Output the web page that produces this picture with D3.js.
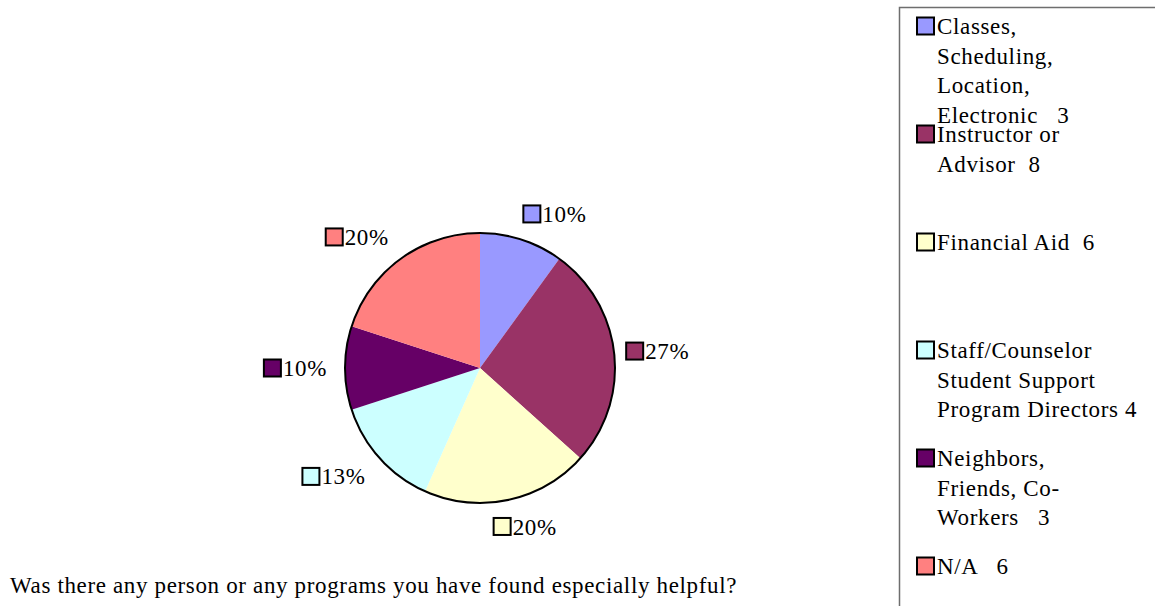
<!DOCTYPE html>
<html>
<head>
<meta charset="utf-8">
<script src="https://cdn.jsdelivr.net/npm/d3@7"></script>
<style>
  body { margin: 0; background: #fff; }
  svg { display: block; }
</style>
</head>
<body>
<div class="pie-chart"></div>
<script>
// categories, values and labels
var categories = ['Classes, Scheduling, Location, Electronic', 'Instructor or Advisor', 'Financial Aid',
	'Staff/Counselor Student Support Program Directors', 'Neighbors, Friends, Co-Workers', 'N/A'];
var counts = [3, 8, 6, 4, 3, 6];
var legendLines = [
	['Classes,', 'Scheduling,', 'Location,', 'Electronic   3'],
	['Instructor or', 'Advisor  8'],
	['Financial Aid  6'],
	['Staff/Counselor', 'Student Support', 'Program Directors 4'],
	['Neighbors,', 'Friends, Co-', 'Workers   3'],
	['N/A   6']
];
var sliceColors = ['#9999ff', '#993366', '#ffffcc', '#ccffff', '#660066', '#ff8080'];
var question = 'Was there any person or any programs you have found especially helpful?';

var width = 1155,
	height = 606,
	fontFamily = '"Liberation Serif", "Times New Roman", serif',
	fontSize = '23px',
	letterSpacing = '0.65px';
var cx = 480, cy = 368, radius = 135;

var svg = d3.select('.pie-chart').append('svg')
	.attr('width', width)
	.attr('height', height)
	.attr('font-family', fontFamily)
	.attr('font-size', fontSize)
	.attr('letter-spacing', letterSpacing)
	.attr('fill', '#000');

var total = d3.sum(counts);
var pie = d3.pie().sort(null).value(function(d) { return d; });
var arc = d3.arc().innerRadius(0).outerRadius(radius);
var arcs = pie(counts);

// slices
var g = svg.append('g').attr('transform', 'translate(' + cx + ',' + cy + ')');
g.selectAll('path.slice')
	.data(arcs)
	.enter().append('path')
	.attr('class', 'slice')
	.attr('d', arc)
	.attr('fill', function(d, i) { return sliceColors[i]; });
// outline only on the rim
g.append('circle')
	.attr('r', radius)
	.attr('fill', 'none')
	.attr('stroke', '#000')
	.attr('stroke-width', 2);

// percentage labels, placed just outside the rim on the slice's middle angle
var labelRadius = radius + 15,
	box = 17,
	gap = 4;
arcs.forEach(function(d, i) {
	var a = (d.startAngle + d.endAngle) / 2;
	var px = Math.sin(a) * labelRadius,
		py = -Math.cos(a) * labelRadius;
	var lbl = g.append('g');
	lbl.append('rect')
		.attr('x', 0)
		.attr('y', -box / 2)
		.attr('width', box)
		.attr('height', box)
		.attr('fill', sliceColors[i])
		.attr('stroke', '#000')
		.attr('stroke-width', 2);
	var t = lbl.append('text')
		.attr('x', box + gap - 2)
		.attr('y', 0)
		.attr('dy', '0.35em')
		.text(Math.round(counts[i] / total * 100) + '%');
	var w = box + gap - 2 + t.node().getComputedTextLength(),
		h = 24;
	var s = Math.sin(a), c = Math.cos(a);
	var lx = s >= 0 ? px - 3 : px - w - 3;
	if (Math.abs(s) < 0.25) lx = px - w / 2 + 14;
	var ly = py - (h / 2) * c;
	lbl.attr('transform', 'translate(' + lx + ',' + ly + ')');
});

// legend
var legendX = 899, legendY = 7, itemStep = 108, lineStep = 29.5;
svg.append('rect')
	.attr('x', legendX + 0.5)
	.attr('y', legendY + 0.5)
	.attr('width', width)
	.attr('height', height)
	.attr('fill', 'none')
	.attr('stroke', '#6e6e6e')
	.attr('stroke-width', 1.5);
var legend = svg.selectAll('g.legend-item')
	.data(legendLines)
	.enter().append('g')
	.attr('class', 'legend-item')
	.attr('transform', function(d, i) {
		return 'translate(' + (legendX + 18) + ',' + (legendY + 19 + i * itemStep) + ')';
	});
legend.append('rect')
	.attr('x', 0)
	.attr('y', -box / 2)
	.attr('width', box)
	.attr('height', box)
	.attr('fill', function(d, i) { return sliceColors[i]; })
	.attr('stroke', '#000')
	.attr('stroke-width', 2);
legend.each(function(lines) {
	var item = d3.select(this);
	lines.forEach(function(line, j) {
		item.append('text')
			.attr('x', box + 3)
			.attr('y', j * lineStep)
			.attr('dy', '0.35em')
			.style('white-space', 'pre')
			.text(line);
	});
});

// question underneath
svg.append('text')
	.attr('x', 10)
	.attr('y', 585)
	.attr('dy', '0.35em')
	.text(question);
</script>
</body>
</html>
